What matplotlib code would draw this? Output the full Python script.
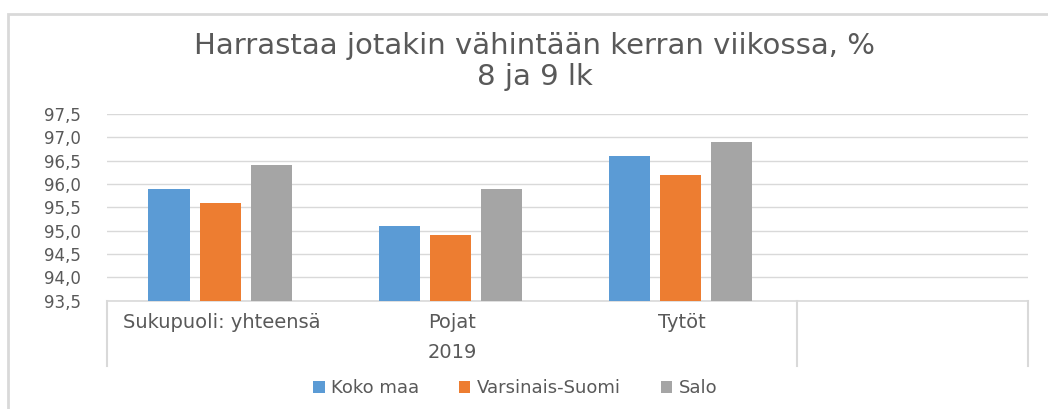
import matplotlib
matplotlib.use("Agg")
import matplotlib.pyplot as plt
from matplotlib.patches import Rectangle
import numpy as np

categories = ["Sukupuoli: yhteensä", "Pojat", "Tytöt"]
year_label = "2019"
series_names = ["Koko maa", "Varsinais-Suomi", "Salo"]
koko_maa = [95.9, 95.1, 96.6]
varsinais_suomi = [95.6, 94.9, 96.2]
salo = [96.4, 95.9, 96.9]
yticks = [93.5, 94.0, 94.5, 95.0, 95.5, 96.0, 96.5, 97.0, 97.5]

colors = ["#5B9BD5", "#ED7D31", "#A5A5A5"]
text_color = "#595959"
grid_color = "#D9D9D9"
plt.rcParams['font.family'] = ['DejaVu Sans']

W, H = 1048, 409
fig = plt.figure(figsize=(W / 100, H / 100), dpi=100)
ax = fig.add_axes([107 / W, 1 - 300.7 / H, (1027.5 - 107) / W, (300.7 - 114) / H])

# figure frame
fig.add_artist(Rectangle((8 / W, -0.1), 1.2, (H - 14) / H + 0.1, transform=fig.transFigure,
                         fill=False, edgecolor=grid_color, linewidth=2))

x = np.arange(len(categories))
width = 0.18
offset = 0.222
for i, (vals, name) in enumerate(zip([koko_maa, varsinais_suomi, salo], series_names)):
    ax.bar(x + (i - 1) * offset - 0.008, np.array(vals) - 93.5, width, bottom=93.5,
           color=colors[i], label=name, zorder=3)

ax.set_xlim(-0.5, 3.5)
ax.set_ylim(93.5, 97.5)
ax.set_yticks(yticks)
ax.set_yticklabels([f"{v:.1f}".replace(".", ",") for v in yticks], fontsize=12, color=text_color)
ax.tick_params(axis='y', length=0, pad=19)
ax.set_xticks([])
ax.grid(axis='y', color=grid_color, linewidth=1, zorder=0)
for s in ['left', 'right', 'top']:
    ax.spines[s].set_visible(False)
ax.spines['bottom'].set_color(grid_color)
ax.spines['bottom'].set_linewidth(1.2)

trans = ax.get_xaxis_transform()
for xv in [-0.5, 2.5, 3.5]:
    ax.plot([xv, xv], [0, -0.352], transform=trans, color=grid_color, linewidth=1.5, clip_on=False)
for xi, c in zip(x, categories):
    ax.text(xi, -0.115, c, transform=trans, ha='center', va='center', fontsize=14, color=text_color)
ax.text(1, -0.28, year_label, transform=trans, ha='center', va='center', fontsize=14, color=text_color)

fig.text(535 / W, 1 - 46 / H, "Harrastaa jotakin vähintään kerran viikossa, %", ha='center', va='center',
         fontsize=21, color=text_color)
fig.text(535 / W, 1 - 77 / H, "8 ja 9 lk", ha='center', va='center', fontsize=21, color=text_color)

leg = fig.legend(loc='center', bbox_to_anchor=(515 / W, 1 - 388 / H), ncol=3, frameon=False,
                 fontsize=13, handlelength=0.65, handleheight=0.65, handletextpad=0.35, columnspacing=2.2)
for t in leg.get_texts():
    t.set_color(text_color)

fig.savefig("out.png", dpi=100)
